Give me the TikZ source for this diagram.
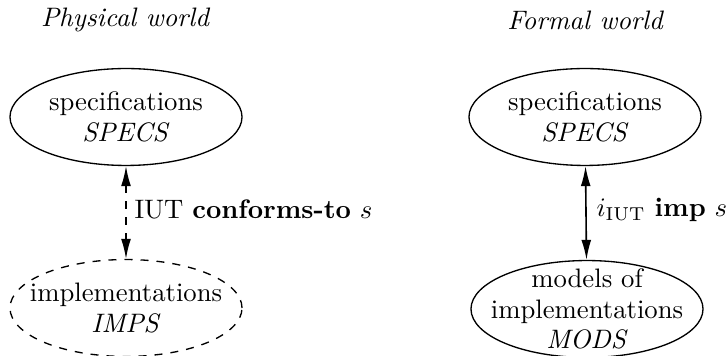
\documentclass[tikz,border=0pt]{standalone}
\usetikzlibrary{shapes.geometric,arrows.meta}
\begin{document}
\begin{tikzpicture}[x=0.3745pt,y=-0.3745pt,
  world/.style={font=\itshape},
  setbox/.style={draw,line width=0.5pt,ellipse,minimum width=86.9pt,minimum height=36.3pt,inner sep=0pt},
  settext/.style={align=center,inner sep=0pt},
  rel/.style={{Latex[length=7.5pt,width=3.7pt]}-{Latex[length=7.5pt,width=3.7pt]},line width=0.6pt},
  lbl/.style={anchor=west,inner sep=0pt}]
\useasboundingbox (0,0) rectangle (727,356);
\node[world] (pw) at (125,20) {Physical world};
\node[world] (fw) at (585,20) {Formal world};
\node[setbox] (ps) at (126,117) {};
\node[settext] (pst) at (ps) {specifications\\[-0.5pt]\textit{SPECS}};
\node[setbox,dashed] (pi) at (126,308) {};
\node[settext] (pit) at (pi) {implementations\\[-0.5pt]\textit{IMPS}};
\node[setbox] (fs) at (585,117) {};
\node[settext] (fst) at (fs) {specifications\\[-0.5pt]\textit{SPECS}};
\node[setbox] (fm) at (587,309) {};
\node[settext] (fmt) at (fm) {models of\\[-0.5pt]implementations\\[-0.5pt]\textit{MODS}};
\draw[rel,dashed] (ps) -- (pi);
\draw[rel] (fs) -- (fm);
\node[lbl] (lc) at (134,209) {IUT \textbf{conforms-to} $s$};
\node[lbl] (li) at (596,210) {$i_{\mathrm{IUT}}$ \textbf{imp} $s$};
\end{tikzpicture}
\end{document}
